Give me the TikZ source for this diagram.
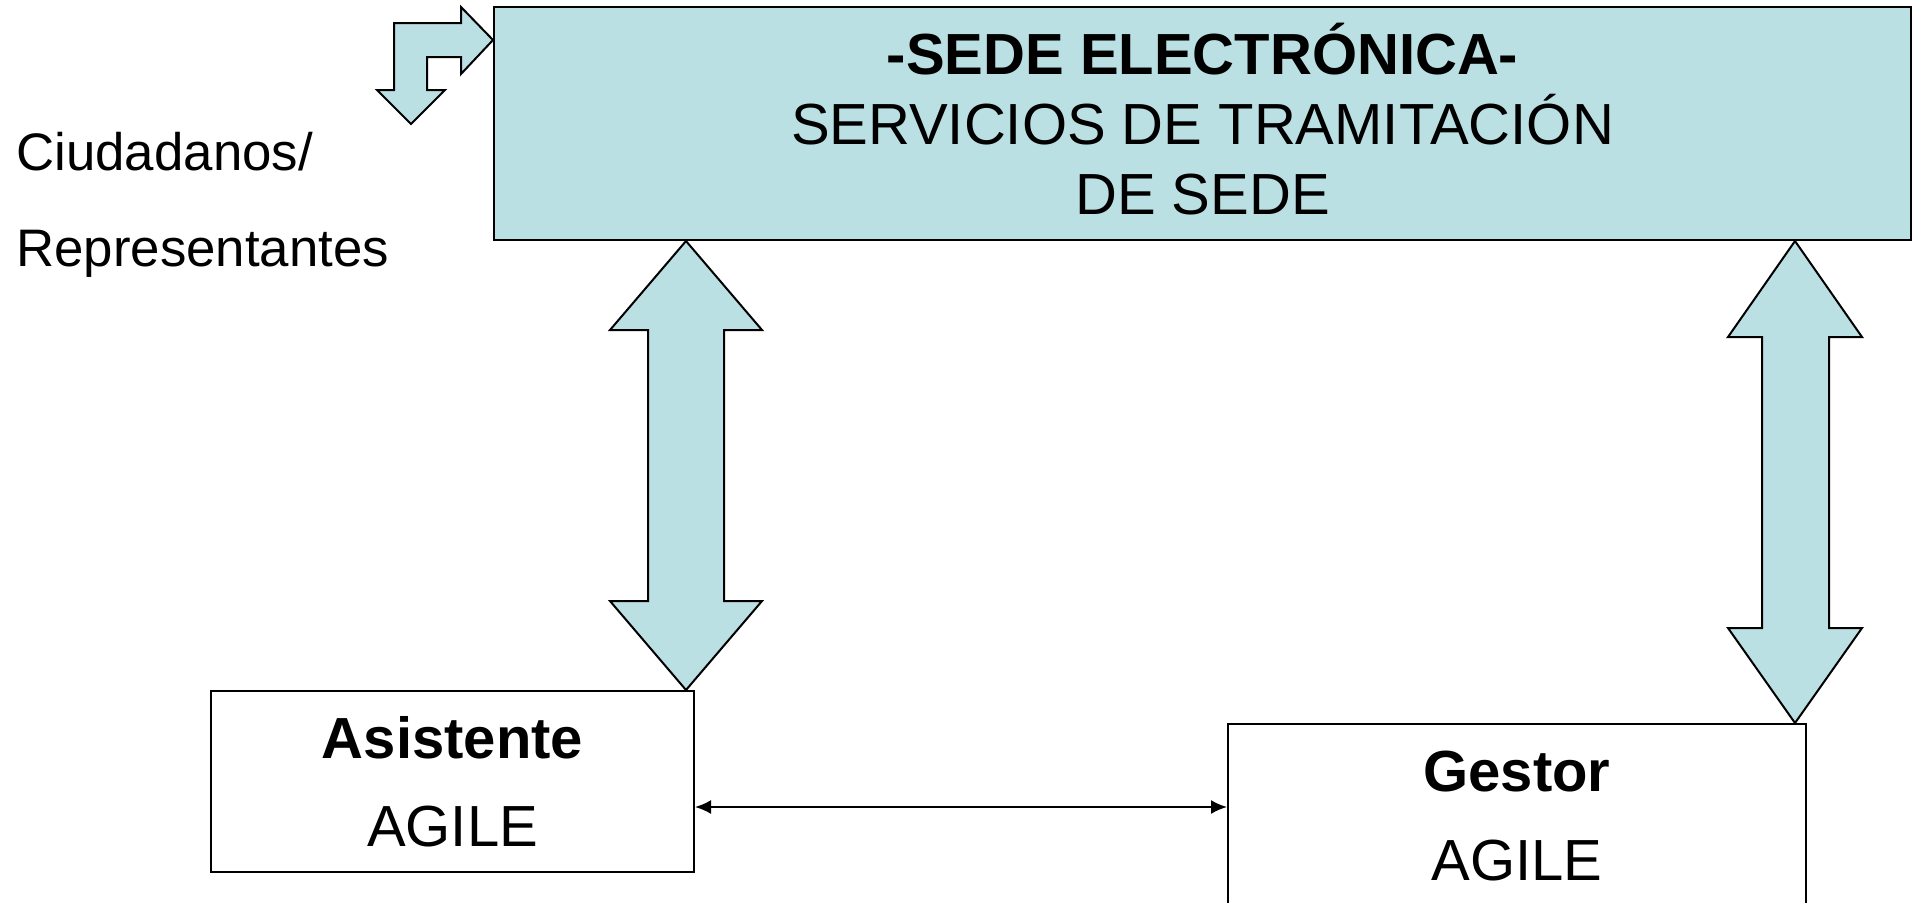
\documentclass[tikz,border=0pt]{standalone}
\usepackage{fontspec}
\setmainfont{Liberation Sans}
\usetikzlibrary{arrows.meta}
\definecolor{sedefill}{RGB}{187,224,227}
\tikzset{
  box/.style={draw=black, line width=1pt, inner sep=0pt, align=center},
  bigarrow/.style={draw=black, line width=1pt, fill=sedefill, line join=miter},
  link/.style={line width=1pt, {Latex[length=8pt,width=7pt]}-{Latex[length=8pt,width=7pt]}}
}
\begin{document}
\begin{tikzpicture}[x=0.5pt, y=-0.5pt]
  \useasboundingbox (0,0) rectangle (1912,902);
  \clip (0,0) rectangle (1912,902);

  % boxes
  \node[box, fill=sedefill, minimum width=708.5pt, minimum height=116.5pt,
        font=\fontsize{29}{35}\selectfont] (sede) at (1202.5,123.5)
        {\textbf{-SEDE ELECTRÓNICA-}\\SERVICIOS DE TRAMITACIÓN\\DE SEDE\vspace*{4pt}};
  \node[box, fill=white, minimum width=241.5pt, minimum height=90.5pt,
        font=\fontsize{29}{44}\selectfont] (asistente) at (452.5,781.5)
        {\textbf{Asistente}\\AGILE};
  \node[box, fill=white, minimum width=289pt, minimum height=92pt,
        font=\fontsize{29}{44.5}\selectfont] (gestor) at (1517,816)
        {\textbf{Gestor}\\AGILE};
  \node[inner sep=0pt, anchor=west, align=left,
        font=\fontsize{26.4}{48}\selectfont] (ciudadanos) at (16,205)
        {Ciudadanos/\\Representantes};

  % bent arrow (ciudadanos <-> sede)
  \draw[bigarrow] (sede.west |- 0,40) -- (461,7) -- (461,23) -- (394,23) -- (394,90)
    -- (377,90) -- (411,124) -- (445,90) -- (427,90) -- (427,57) -- (461,57)
    -- (461,74) -- cycle;

  % sede <-> asistente
  \draw[bigarrow] (686,241) -- (762,330) -- (724,330) -- (724,601) -- (762,601)
    -- (686,690) -- (610,601) -- (648,601) -- (648,330) -- (610,330) -- cycle;

  % sede <-> gestor
  \draw[bigarrow] (1795,241) -- (1862,337) -- (1829,337) -- (1829,628) -- (1862,628)
    -- (1795,723) -- (1728,628) -- (1762,628) -- (1762,337) -- (1728,337) -- cycle;

  % asistente <-> gestor
  \coordinate (mid) at (0,807);
  \draw[link] (asistente.east |- mid) -- (gestor.west |- mid);
\end{tikzpicture}
\end{document}
